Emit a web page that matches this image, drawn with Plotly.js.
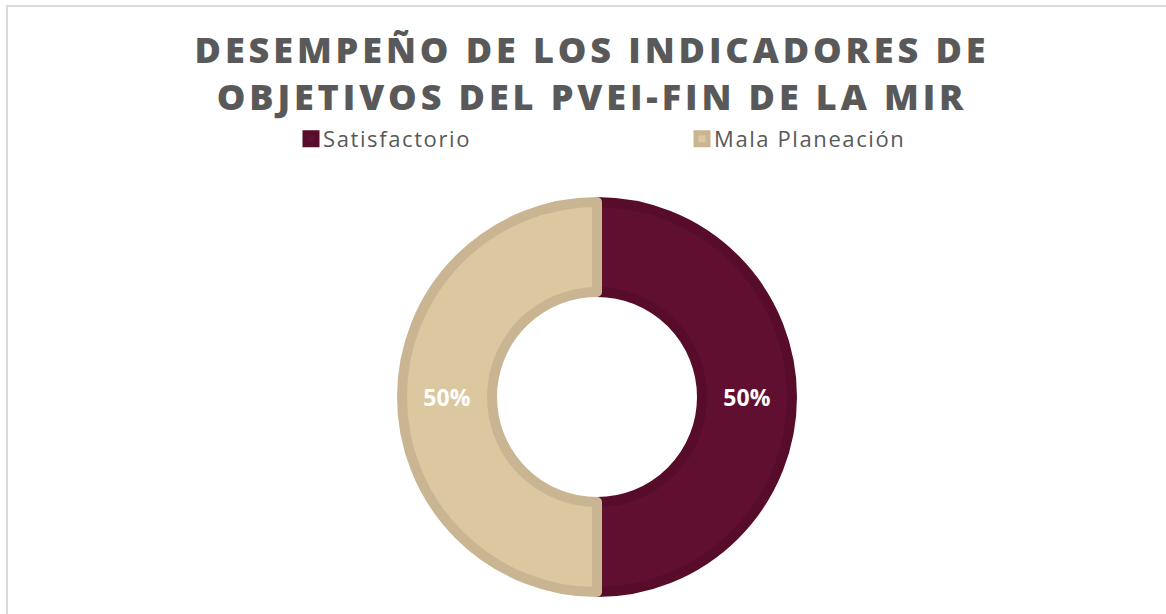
<!DOCTYPE html>
<html>
<head>
<meta charset="utf-8">
<script src="https://cdn.plot.ly/plotly-3.0.1.min.js"></script>
<style>
  html, body { margin: 0; padding: 0; background: #ffffff; }
  #wrap { position: relative; width: 1166px; height: 614px; overflow: hidden; }
  #frame { position: absolute; left: 6px; top: 5px; width: 1200px; height: 700px;
           border-left: 2px solid #d9d9d9; border-top: 2px solid #d9d9d9; box-sizing: border-box; }
  #chart { position: absolute; left: 0; top: 0; width: 1166px; height: 614px; }
  #chart .gtitle { letter-spacing: 3.9px; }
  #chart .legendtext { letter-spacing: 1.6px; transform: translateX(-8px); }
</style>
</head>
<body>
<div id="wrap">
  <div id="frame"></div>
  <div id="chart"></div>
</div>
<script>
const categories = ['Satisfactorio', 'Mala Planeación'];
const values = [50, 50];
const sliceColors = ['#610f31', '#dcc8a0'];
const borderColors = ['#570c2a', '#c9b592'];
const titleLines = ['DESEMPEÑO DE LOS INDICADORES DE', 'OBJETIVOS DEL PVEI-FIN DE LA MIR'];

const W = 1166, H = 614;
const cx = 597, cy = 397, R = 195;

const trace = {
  type: 'pie',
  labels: categories,
  values: values,
  sort: false,
  direction: 'clockwise',
  rotation: 0,
  hole: 105 / 195,
  marker: { colors: sliceColors, line: { color: borderColors, width: 10 } },
  textinfo: 'percent',
  texttemplate: '%{percent:.0%}',
  textposition: 'inside',
  insidetextorientation: 'horizontal',
  textfont: { family: 'Open Sans, sans-serif', size: 23, color: '#ffffff', weight: 700 },
  hoverinfo: 'none',
  domain: {
    x: [(cx - R) / W, (cx + R) / W],
    y: [(H - cy - R) / H, (H - cy + R) / H]
  }
};

const layout = {
  width: W, height: H,
  margin: { l: 0, r: 0, t: 0, b: 0, autoexpand: false },
  paper_bgcolor: 'rgba(0,0,0,0)',
  plot_bgcolor: 'rgba(0,0,0,0)',
  title: {
    text: titleLines.join('<br>'),
    font: { family: 'Open Sans, sans-serif', size: 36, color: '#595959', weight: 800 },
    x: 592 / W, xanchor: 'center', xref: 'container',
    y: 1 - 63 / H, yanchor: 'top', yref: 'container'
  },
  showlegend: true,
  legend: {
    orientation: 'h',
    x: 291 / W, xanchor: 'left', xref: 'container',
    y: 1 - 118 / H, yanchor: 'top', yref: 'container',
    font: { family: 'Open Sans, sans-serif', size: 22, color: '#595959' },
    entrywidth: 346,
    traceorder: 'normal'
  },
  hovermode: false
};

Plotly.newPlot('chart', [trace], layout, { displayModeBar: false, staticPlot: true });
</script>
</body>
</html>
